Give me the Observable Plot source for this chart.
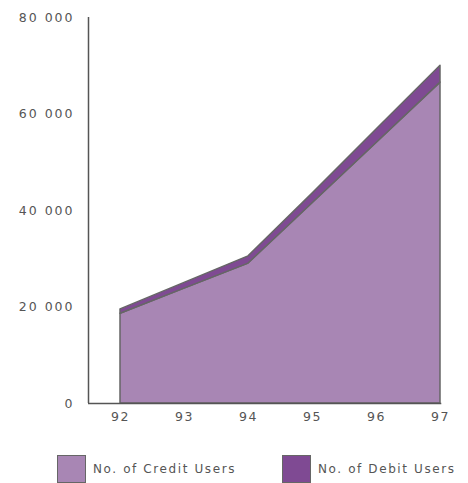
<!DOCTYPE html>
<html>
<head>
<meta charset="utf-8">
<script src="https://cdn.jsdelivr.net/npm/d3@7"></script>
<script src="https://cdn.jsdelivr.net/npm/@observablehq/plot@0.6"></script>
<style>
  html, body { margin: 0; padding: 0; background: #fff; }
  body { width: 468px; height: 483px; overflow: hidden; font-family: "DejaVu Sans", sans-serif; }
  #legend { position: relative; height: 43px; }
  .item { position: absolute; top: 15px; display: flex; align-items: center; }
  .sw { width: 29px; height: 28px; border: 1.5px solid #666; box-sizing: border-box; }
  .lbl { margin-left: 7px; font-size: 12px; letter-spacing: 1.6px; color: #555; }
  #chart svg g[aria-label="y-axis tick label"] text { letter-spacing: 2px; font-size: 12.5px; }
  #chart svg g[aria-label="x-axis tick label"] text { letter-spacing: 1.5px; font-size: 12.5px; }
</style>
</head>
<body>
<div id="chart"></div>
<div id="legend"></div>
<script>
const years = [92, 93, 94, 95, 96, 97];
const seriesNames = ["No. of Credit Users", "No. of Debit Users"];
const creditUsers = [18600, 23800, 29000, 41500, 54000, 66500];
const debitUsers = [900, 1200, 1500, 2000, 2800, 3500];
const yTicks = [0, 20000, 40000, 60000, 80000];
const seriesColors = ["#a886b4", "#7f4a93"];

const data = [];
years.forEach((yr, i) => {
  data.push({year: yr, series: seriesNames[0], value: creditUsers[i]});
  data.push({year: yr, series: seriesNames[1], value: debitUsers[i]});
});

const fmt = d => d3.format(",")(d).replace(/,/g, " ");

const chart = Plot.plot({
  width: 468,
  height: 440,
  marginLeft: 88,
  marginRight: 28,
  marginTop: 17,
  marginBottom: 37,
  style: {fontFamily: "DejaVu Sans, sans-serif", fontSize: "12px", color: "#555"},
  x: {domain: [91.5, 97], ticks: years, tickFormat: d => String(d), label: null},
  y: {domain: [0, 80000], label: null},
  color: {domain: seriesNames, range: seriesColors},
  marks: [
    Plot.areaY(data, {x: "year", y: "value", fill: "series", order: seriesNames, stroke: "#666", strokeWidth: 1.5, strokeLinejoin: "round"}),
    Plot.ruleX([91.5], {y1: 0, y2: 80000, stroke: "#555", strokeWidth: 1.5}),
    Plot.ruleY([0], {x1: 91.5, x2: 97.02, stroke: "#555", strokeWidth: 1.5}),
    Plot.axisY({ticks: yTicks, tickFormat: fmt, tickSize: 0, tickPadding: 14, fill: "#555", label: null}),
    Plot.axisX({ticks: years, tickFormat: d => String(d), tickSize: 0, tickPadding: 9, fill: "#555", label: null})
  ]
});
document.getElementById("chart").appendChild(chart);

const legend = document.getElementById("legend");
const lefts = [57, 282];
seriesNames.forEach((name, i) => {
  const it = document.createElement("div");
  it.className = "item";
  it.style.left = lefts[i] + "px";
  const sw = document.createElement("div");
  sw.className = "sw";
  sw.style.background = seriesColors[i];
  const lb = document.createElement("span");
  lb.className = "lbl";
  lb.textContent = name;
  it.appendChild(sw);
  it.appendChild(lb);
  legend.appendChild(it);
});
</script>
</body>
</html>
